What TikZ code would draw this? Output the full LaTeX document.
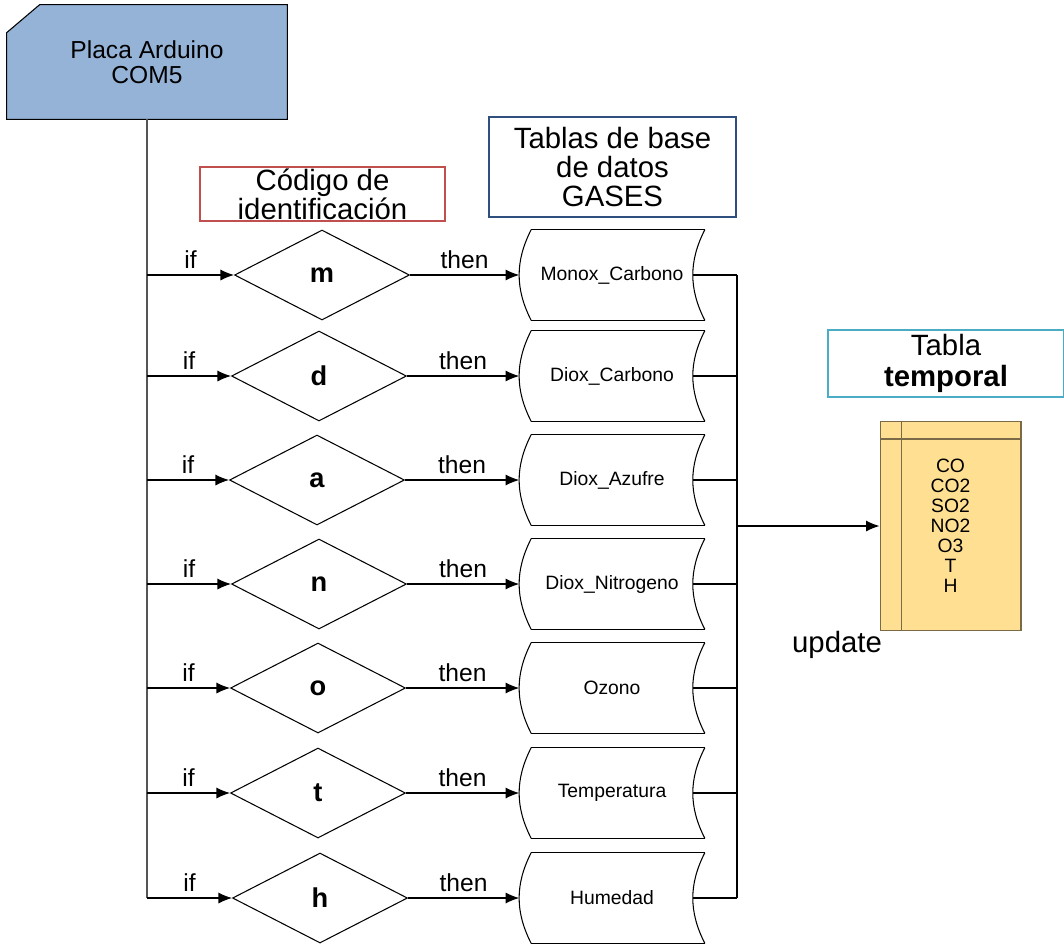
\documentclass[tikz,border=0pt]{standalone}
\usepackage{fontspec}
\setmainfont{Liberation Sans}
\usepackage{tikz}
\usetikzlibrary{arrows.meta,positioning,shapes.geometric,backgrounds}
\definecolor{ardblue}{HTML}{95B3D7}
\definecolor{codred}{HTML}{C0504D}
\definecolor{tabnavy}{HTML}{2F4F7F}
\definecolor{tmpcyan}{HTML}{4BACC6}
\definecolor{tmpfill}{HTML}{FFE093}
\definecolor{tmpedge}{HTML}{7A6A45}
\definecolor{trunkgray}{HTML}{555555}

\begin{document}
\begin{tikzpicture}[
  x=0.02cm, y=-0.02cm,
  >=Latex,
  note/.style={draw,line width=0.8pt,align=center,inner sep=0pt,font=\fontsize{16.7}{16.5}\selectfont},
  card/.style={minimum width=5.6cm,minimum height=2.28cm,align=center,inner sep=0pt,font=\fontsize{14}{14.2}\selectfont},
  test/.style={diamond,draw,line width=0.6pt,minimum width=3.5cm,minimum height=1.8cm,inner sep=0pt,font=\fontsize{15.5}{15.5}\selectfont\bfseries},
  store/.style={minimum width=3.7cm,minimum height=1.8cm,inner sep=0pt,font=\fontsize{11}{13}\selectfont,
    append after command={
      ([xshift=0.24cm]\tikzlastnode.north west) edge[line width=0.6pt] (\tikzlastnode.north east)
      (\tikzlastnode.north east) edge[line width=0.6pt,bend right=27] (\tikzlastnode.south east)
      (\tikzlastnode.south east) edge[line width=0.6pt] ([xshift=0.24cm]\tikzlastnode.south west)
      ([xshift=0.24cm]\tikzlastnode.south west) edge[line width=0.6pt,bend left=27] ([xshift=0.24cm]\tikzlastnode.north west)}},
  tmpbox/.style={draw=tmpedge,fill=tmpfill,line width=0.6pt,minimum width=2.82cm,minimum height=4.18cm,align=center,inner sep=0pt,font=\fontsize{11}{11.4}\selectfont},
  lbl/.style={font=\fontsize{14}{14}\selectfont},
  wire/.style={line width=0.6pt},
  flow/.style={line width=0.6pt,->,>={Latex[length=0.27cm,width=0.22cm]}}
]
  \useasboundingbox (0,0) rectangle (1064,944);

  % source board
  \node[card] (ard) at (147,62) {Placa Arduino\\COM5};
  \begin{scope}[on background layer]
    \filldraw[fill=ardblue,draw=black,line width=0.6pt]
      ([yshift=-0.56cm]ard.north west) -- ([xshift=0.66cm]ard.north west)
      -- (ard.north east) -- (ard.south east) -- (ard.south west) -- cycle;
  \end{scope}

  % captions
  \node[note,draw=codred,minimum width=4.9cm,minimum height=1.08cm] (cod) at (322.5,194) {Código de\\identificación};
  \node[note,draw=tabnavy,minimum width=4.94cm,minimum height=2cm] (tab) at (612.5,167) {Tablas de base\\de datos\\GASES};
  \node[note,draw=tmpcyan,minimum width=4.72cm,minimum height=1.34cm,font=\fontsize{16.7}{17.2}\selectfont] (tmpcap) at (946,363.5) {Tabla\\\textbf{temporal}};

  % identification codes
  \node[test] (dm) at (322,275) {m};
  \node[test] (dd) at (319,376) {d};
  \node[test] (da) at (317,480) {a};
  \node[test] (dn) at (319,584) {n};
  \node[test] (do) at (318,688) {o};
  \node[test] (dt) at (318,793) {t};
  \node[test] (dh) at (320,898) {h};

  % gas tables
  \node[store] (sm) at (612,275) {Monox\_Carbono};
  \node[store] (sd) at (612,376) {Diox\_Carbono};
  \node[store] (sa) at (612,480) {Diox\_Azufre};
  \node[store] (sn) at (612,584) {Diox\_Nitrogeno};
  \node[store] (so) at (612,688) {Ozono};
  \node[store] (st) at (612,793) {Temperatura};
  \node[store] (sh) at (612,898) {Humedad};

  % temporary table
  \node[tmpbox] (tmp) at (950.5,526) {CO\\CO2\\SO2\\NO2\\O3\\T\\H};
  \draw[draw=tmpedge,line width=0.6pt] ([yshift=-0.36cm]tmp.north west) -- ([yshift=-0.36cm]tmp.north east);
  \draw[draw=tmpedge,line width=0.6pt] ([xshift=0.44cm]tmp.north west) -- ([xshift=0.44cm]tmp.south west);
  \node[note,draw=none] (upd) at (837,645) {update};

  % trunk and if branches
  \draw[wire,trunkgray] (ard.south) -- (ard.south |- dh.west);
  \draw[flow] (ard.south |- dm.west) -- node[lbl,above] {if} (dm.west);
  \draw[flow] (ard.south |- dd.west) -- node[lbl,above] {if} (dd.west);
  \draw[flow] (ard.south |- da.west) -- node[lbl,above] {if} (da.west);
  \draw[flow] (ard.south |- dn.west) -- node[lbl,above] {if} (dn.west);
  \draw[flow] (ard.south |- do.west) -- node[lbl,above] {if} (do.west);
  \draw[flow] (ard.south |- dt.west) -- node[lbl,above] {if} (dt.west);
  \draw[flow] (ard.south |- dh.west) -- node[lbl,above] {if} (dh.west);

  % then branches
  \draw[flow] (dm.east) -- node[lbl,above] {then} (sm.west);
  \draw[flow] (dd.east) -- node[lbl,above] {then} (sd.west);
  \draw[flow] (da.east) -- node[lbl,above] {then} (sa.west);
  \draw[flow] (dn.east) -- node[lbl,above] {then} (sn.west);
  \draw[flow] (do.east) -- node[lbl,above] {then} (so.west);
  \draw[flow] (dt.east) -- node[lbl,above] {then} (st.west);
  \draw[flow] (dh.east) -- node[lbl,above] {then} (sh.west);

  % collecting bus into the temporary table
  \coordinate (bus) at (737,526);
  \draw[wire] ([xshift=-0.24cm]sm.east) -- (bus |- sm.east);
  \draw[wire] ([xshift=-0.24cm]sd.east) -- (bus |- sd.east);
  \draw[wire] ([xshift=-0.24cm]sa.east) -- (bus |- sa.east);
  \draw[wire] ([xshift=-0.24cm]sn.east) -- (bus |- sn.east);
  \draw[wire] ([xshift=-0.24cm]so.east) -- (bus |- so.east);
  \draw[wire] ([xshift=-0.24cm]st.east) -- (bus |- st.east);
  \draw[wire] ([xshift=-0.24cm]sh.east) -- (bus |- sh.east);
  \draw[wire] (bus |- sm.east) -- (bus |- sh.east);
  \draw[flow] (bus) -- (tmp.west);
\end{tikzpicture}
\end{document}
